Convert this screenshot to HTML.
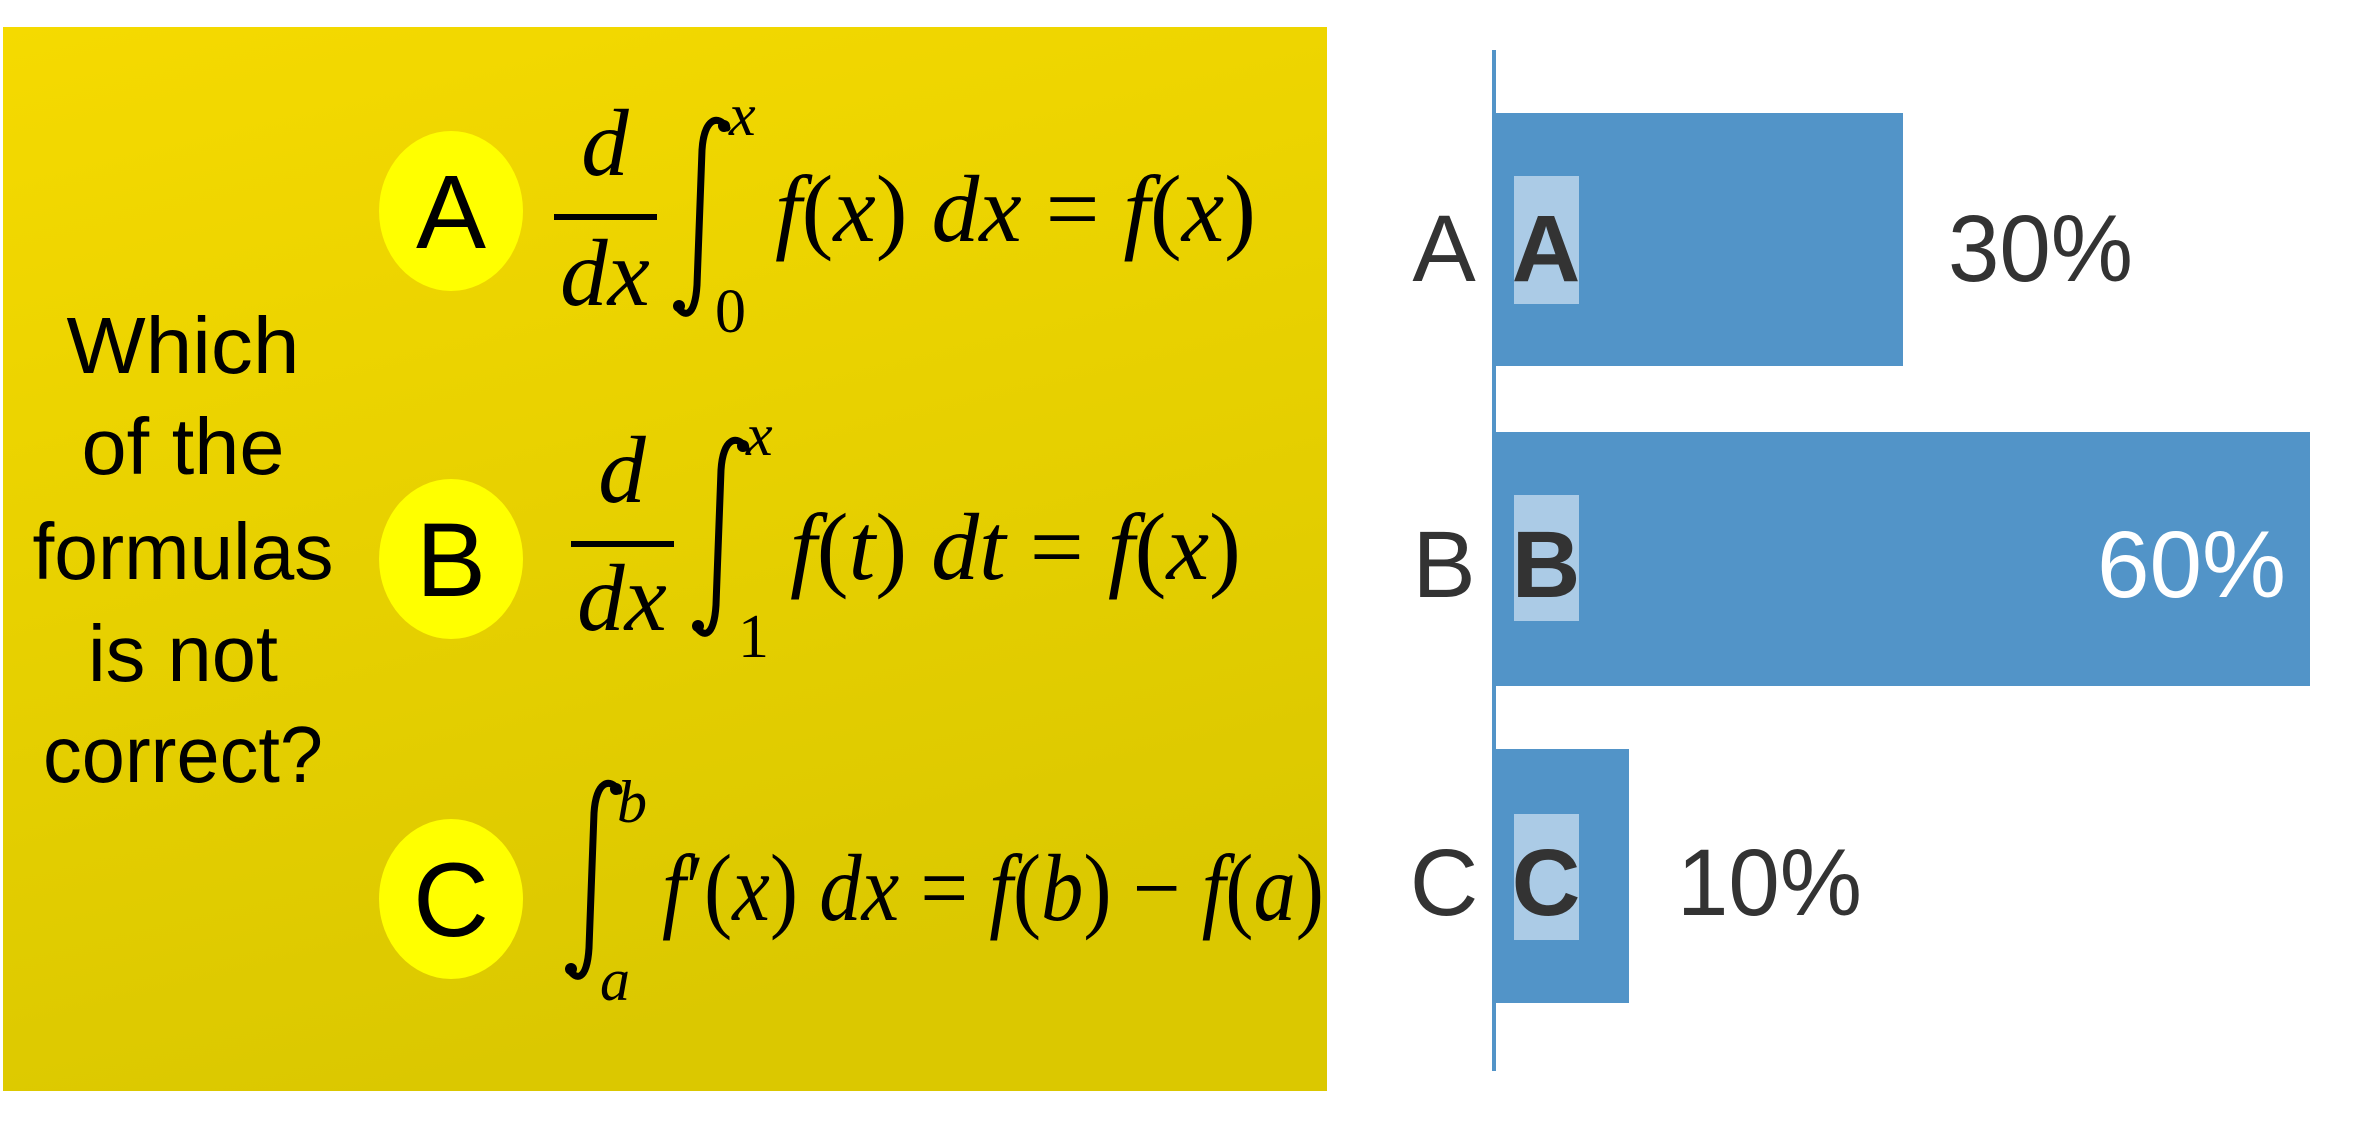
<!DOCTYPE html>
<html><head><meta charset="utf-8"><style>
html,body{margin:0;padding:0;background:#fff;}
svg{display:block;}
</style></head><body>
<svg width="2358" height="1122" viewBox="0 0 2358 1122" xmlns="http://www.w3.org/2000/svg">
<defs>
<linearGradient id="yg" x1="0" y1="0" x2="0.3" y2="1">
<stop offset="0" stop-color="#f5da00"/><stop offset="1" stop-color="#dbc800"/>
</linearGradient>
</defs>
<rect x="3" y="27" width="1324" height="1064" fill="url(#yg)"/>
<g fill="#ffff00">
<ellipse cx="451" cy="211" rx="72" ry="80"/>
<ellipse cx="451" cy="559" rx="72" ry="80"/>
<ellipse cx="451" cy="899" rx="72" ry="80"/>
</g>
<g font-family="Liberation Sans, sans-serif" font-size="105" fill="#000" text-anchor="middle">
<text x="451" y="248">A</text>
<text x="451" y="596">B</text>
<text x="451" y="936">C</text>
</g>
<g font-family="Liberation Sans, sans-serif" font-size="80" fill="#000" text-anchor="middle">
<text x="183" y="373" textLength="233" lengthAdjust="spacingAndGlyphs">Which</text>
<text x="183" y="474" textLength="203" lengthAdjust="spacingAndGlyphs">of the</text>
<text x="183" y="579" textLength="301" lengthAdjust="spacingAndGlyphs">formulas</text>
<text x="183" y="681" textLength="190" lengthAdjust="spacingAndGlyphs">is not</text>
<text x="183" y="782" textLength="280" lengthAdjust="spacingAndGlyphs">correct?</text>
</g>
<!-- integrals -->
<g fill="none" stroke="#000" stroke-width="7" stroke-linecap="round">
<path d="M727,128 C718,114 704,118 702,150 L697,285 C695,318 684,318 677,306"/>
<path d="M746,448 C737,434 723,438 721,470 L716,605 C714,638 703,638 696,626"/>
<path d="M619,791 C610,777 596,781 594,813 L589,948 C587,981 576,981 569,969"/>
</g>
<g fill="#000">
<circle cx="724" cy="126" r="6"/><circle cx="679" cy="306" r="6"/>
<circle cx="743" cy="446" r="6"/><circle cx="698" cy="626" r="6"/>
<circle cx="616" cy="789" r="6"/><circle cx="571" cy="969" r="6"/>
</g>
<!-- fraction bars -->
<rect x="554" y="214" width="103" height="6" fill="#000"/>
<rect x="571" y="541" width="103" height="6" fill="#000"/>
<g font-family="Liberation Serif, serif" fill="#000">
<text x="605" y="175" font-size="95" font-style="italic" text-anchor="middle">d</text>
<text x="605" y="305" font-size="95" font-style="italic" text-anchor="middle">dx</text>
<text x="729" y="135" font-size="60" font-style="italic">x</text>
<text x="715" y="332" font-size="62">0</text>
<text x="775" y="241" font-size="95" textLength="481" lengthAdjust="spacingAndGlyphs"><tspan font-style="italic">f</tspan>(<tspan font-style="italic">x</tspan>) <tspan font-style="italic">dx</tspan> = <tspan font-style="italic">f</tspan>(<tspan font-style="italic">x</tspan>)</text>

<text x="622" y="502" font-size="95" font-style="italic" text-anchor="middle">d</text>
<text x="622" y="630" font-size="95" font-style="italic" text-anchor="middle">dx</text>
<text x="746" y="455" font-size="60" font-style="italic">x</text>
<text x="738" y="657" font-size="62">1</text>
<text x="790" y="579" font-size="95" textLength="451" lengthAdjust="spacingAndGlyphs"><tspan font-style="italic">f</tspan>(<tspan font-style="italic">t</tspan>) <tspan font-style="italic">dt</tspan> = <tspan font-style="italic">f</tspan>(<tspan font-style="italic">x</tspan>)</text>

<text x="617" y="822" font-size="60" font-style="italic">b</text>
<text x="600" y="1000" font-size="60" font-style="italic">a</text>
<text x="662" y="920" font-size="95" textLength="662" lengthAdjust="spacingAndGlyphs"><tspan font-style="italic">f</tspan>′(<tspan font-style="italic">x</tspan>) <tspan font-style="italic">dx</tspan> = <tspan font-style="italic">f</tspan>(<tspan font-style="italic">b</tspan>) − <tspan font-style="italic">f</tspan>(<tspan font-style="italic">a</tspan>)</text>
</g>
<!-- chart -->
<rect x="1492" y="50" width="4" height="1021" fill="#5294c8"/>
<g fill="#5294c8">
<rect x="1494" y="113" width="409" height="253"/>
<rect x="1494" y="432" width="816" height="254"/>
<rect x="1494" y="749" width="135" height="254"/>
</g>
<g fill="#abcbe6">
<rect x="1514" y="176" width="65" height="128"/>
<rect x="1514" y="495" width="65" height="126"/>
<rect x="1514" y="814" width="65" height="126"/>
</g>
<g font-family="Liberation Sans, sans-serif" font-size="95" fill="#333">
<text x="1444" y="281" text-anchor="middle">A</text>
<text x="1444" y="597" text-anchor="middle">B</text>
<text x="1444" y="915" text-anchor="middle">C</text>
<g font-weight="bold" text-anchor="middle">
<text x="1546" y="281">A</text>
<text x="1546" y="597">B</text>
<text x="1546" y="915">C</text>
</g>
<text x="1948" y="281" textLength="185" lengthAdjust="spacingAndGlyphs">30%</text>
<text x="2097" y="597" fill="#fff" textLength="189" lengthAdjust="spacingAndGlyphs">60%</text>
<text x="1677" y="915" textLength="185" lengthAdjust="spacingAndGlyphs">10%</text>
</g>
</svg>
</body></html>
